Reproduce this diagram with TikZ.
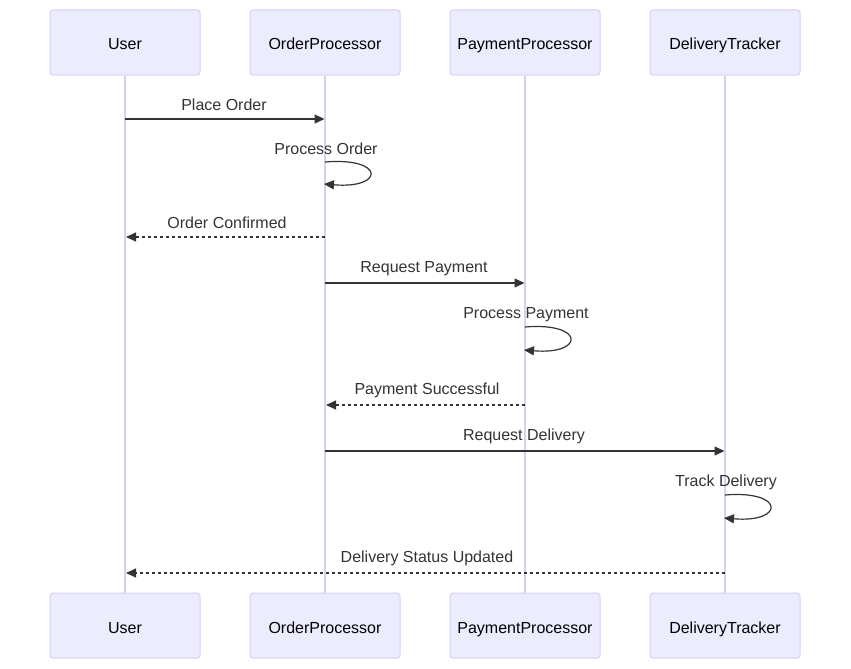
\documentclass[tikz,border=0pt]{standalone}
\usepackage{fontspec}
\setmainfont{Liberation Sans}
\usetikzlibrary{arrows.meta}
\definecolor{actfill}{HTML}{ECECFF}
\definecolor{actline}{HTML}{DACEF3}
\definecolor{msgtext}{HTML}{333333}
\tikzset{
  actor/.style={draw=actline, fill=actfill, line width=1pt, rounded corners=3pt,
    minimum width=150pt, minimum height=65pt, inner sep=0pt,
    text height=18pt, text depth=3pt,
    font=\fontsize{16}{19}\selectfont, text=black},
  lifeline/.style={draw=actline, line width=1.5pt},
  msg/.style={draw=msgtext, line width=1.2pt, -{Triangle[length=10pt,width=9pt]}},
  reply/.style={msg, dash pattern=on 3pt off 3pt},
  msglabel/.style={font=\fontsize{16}{19}\selectfont, text=msgtext, inner sep=0pt,
    text height=11.5pt, text depth=3.5pt}
}
\begin{document}
\begin{tikzpicture}[x=1pt,y=-1pt]
\useasboundingbox (0,0) rectangle (851,669);
% actors, top and bottom
\foreach \name/\lbl/\x in {u/User/125, o/OrderProcessor/325, p/PaymentProcessor/525, d/DeliveryTracker/725} {
  \node[actor] (\name T) at (\x,42.5) {\lbl};
  \node[actor] (\name B) at (\x,625.5) {\lbl};
  \draw[lifeline] (\name T.south) -- (\name B.north);
}
% messages
\node[msglabel] (l1) at (224,106.5) {Place Order};
\draw[msg] (uT |- 0,119) -- ([xshift=-0.5pt]oT |- 0,119);
\node[msglabel] (l2) at (326,150.5) {Process Order};
\draw[msg] (oT |- 0,162) .. controls (385,157) and (385,189) .. ([xshift=-1pt]oT |- 0,184);
\node[msglabel] (l3) at (227,224.5) {Order Confirmed};
\draw[reply] (oT |- 0,237) -- ([xshift=1pt]uT |- 0,237);
\node[msglabel] (l4) at (424,268.5) {Request Payment};
\draw[msg] (oT |- 0,283) -- ([xshift=-0.5pt]pT |- 0,283);
\node[msglabel] (l5) at (526,314.5) {Process Payment};
\draw[msg] (pT |- 0,327) .. controls (585,322) and (585,355) .. ([xshift=-1pt]pT |- 0,350);
\node[msglabel] (l6) at (427,390.5) {Payment Successful};
\draw[reply] (pT |- 0,405) -- ([xshift=1pt]oT |- 0,405);
\node[msglabel] (l7) at (524,436.5) {Request Delivery};
\draw[msg] (oT |- 0,451) -- ([xshift=-0.5pt]dT |- 0,451);
\node[msglabel] (l8) at (726,482.5) {Track Delivery};
\draw[msg] (dT |- 0,495) .. controls (785,490) and (785,523) .. ([xshift=-1pt]dT |- 0,518);
\node[msglabel] (l9) at (427,558.5) {Delivery Status Updated};
\draw[reply] (dT |- 0,573) -- ([xshift=1pt]uT |- 0,573);
\end{tikzpicture}
\end{document}
